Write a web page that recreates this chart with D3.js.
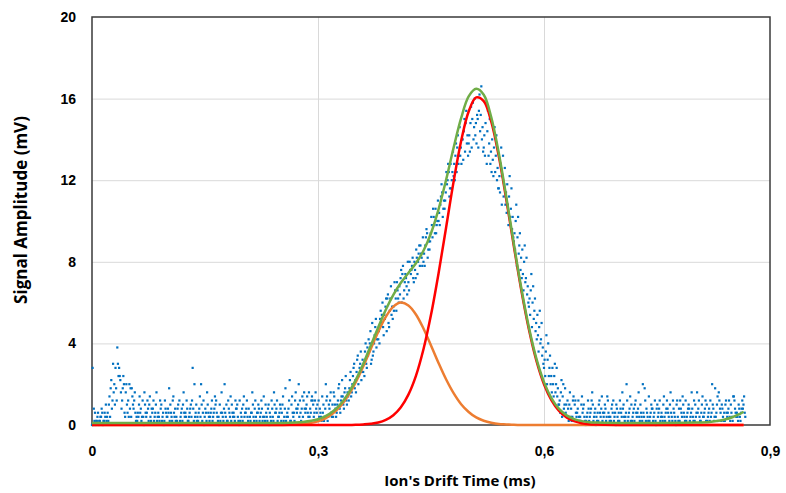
<!DOCTYPE html>
<html>
<head>
<meta charset="utf-8">
<script src="https://cdn.jsdelivr.net/npm/d3@7.9.0/dist/d3.min.js"></script>
<style>
  html, body { margin: 0; padding: 0; background: #fff; }
  svg { display: block; font-family: "Open Sans", "Noto Sans", sans-serif; }
  .tick text { font-weight: 700; fill: #000; }
  .axis-title { font-weight: 700; fill: #000; }
</style>
</head>
<body>
<div id="chart"></div>
<script>
// ADC samples, one row per sample time (step 0.004 ms), five overlaid traces,
// values in ADC levels of 0.2 mV
const sampleStep = 0.004;
const traceOffsets = [0, 0.0024, 0.0008, 0.0032, 0.0016]; // ms, sampling phase
const mvPerLevel = 0.2;
const adcLevels = [
  [0,4,14,1,0],[1,0,2,1,3],[0,2,1,3,1],[1,3,2,0,4],[2,1,5,3,1],
  [2,5,3,7,1],[4,9,6,11,2],[8,14,10,15,5],[12,19,9,15,6],[11,14,8,12,4],
  [6,10,9,3,12],[5,8,3,10,2],[2,9,10,6,4],[4,7,2,5,9],[3,6,1,8,2],
  [1,5,3,7,2],[2,4,6,1,3],[0,3,8,2,5],[1,6,2,4,3],[2,5,1,7,4],
  [3,1,4,2,6],[1,5,2,8,3],[2,4,1,3,6],[0,2,5,3,1],[4,1,3,6,2],
  [2,9,4,1,3],[1,3,6,2,5],[3,1,2,7,4],[0,4,2,5,1],[2,6,3,1,4],
  [1,3,5,2,8],[4,2,1,6,3],[2,5,3,1,4],[1,14,2,4,6],[3,10,5,2,1],
  [2,4,1,7,3],[1,10,3,5,2],[0,3,2,6,4],[2,5,1,3,8],[3,1,4,2,6],
  [1,4,2,7,3],[2,6,1,3,5],[0,3,5,2,1],[4,2,8,1,3],[2,10,5,3,1],
  [1,3,6,2,4],[3,1,2,5,7],[2,4,1,3,6],[0,2,4,1,5],[3,6,2,1,4],
  [1,2,5,3,7],[2,4,1,6,3],[0,3,2,4,1],[1,5,3,2,8],[2,4,1,6,3],
  [3,1,5,2,4],[1,6,2,4,3],[2,3,1,7,5],[0,4,2,5,1],[1,3,6,2,4],
  [2,5,1,3,8],[1,4,2,6,3],[3,1,5,2,4],[2,7,3,1,5],[1,4,2,9,3],
  [2,11,4,1,6],[3,5,2,7,1],[1,4,6,3,8],[2,5,3,10,4],[1,6,4,3,7],
  [2,4,6,3,8],[3,5,2,7,4],[2,6,4,8,3],[3,5,7,2,6],[4,6,3,8,5],
  [1,4,6,3,2],[3,1,5,7,2],[2,6,4,1,10],[4,2,7,5,1],[3,6,2,8,5],
  [2,5,8,4,7],[6,3,9,5,2],[4,7,3,10,6],[8,5,11,4,7],[6,9,5,12,8],
  [7,11,6,13,9],[12,8,14,10,7],[9,13,11,15,8],[14,10,16,12,17],[11,15,13,18,16],
  [13,18,15,20,12],[17,14,21,19,15],[20,16,23,18,15],[22,18,25,20,17],[19,24,21,26,23],
  [21,26,23,28,20],[24,27,22,30,25],[26,23,29,27,31],[28,25,31,24,32],[27,31,29,34,26],
  [29,33,28,31,35],[31,35,30,33,28],[32,30,36,34,38],[35,31,37,33,39],[34,37,32,36,40],
  [35,38,33,37,40],[36,39,35,41,38],[38,41,36,40,43],[39,42,37,44,40],[41,44,39,42,46],
  [40,44,42,46,39],[43,47,45,41,48],[45,49,47,43,51],[47,51,46,49,53],[49,53,50,47,55],
  [50,54,52,56,49],[53,57,55,51,59],[55,59,57,53,62],[58,62,60,56,64],[60,64,62,58,67],
  [61,66,64,69,60],[64,68,66,71,62],[66,70,68,73,64],[67,72,70,75,65],[69,74,71,77,66],
  [69,74,71,78,67],[70,75,73,79,68],[71,76,74,80,69],[72,77,75,81,68],[70,76,73,83,67],
  [68,74,71,79,66],[66,72,69,77,64],[64,70,67,75,62],[62,68,65,73,61],[60,66,63,71,58],
  [58,64,61,68,57],[56,61,59,66,54],[54,59,57,63,52],[51,56,54,61,49],[48,53,51,58,46],
  [45,50,47,54,43],[42,46,44,51,39],[38,43,41,47,36],[35,40,37,44,33],[32,36,34,41,30],
  [29,33,31,37,27],[26,30,28,34,24],[23,27,25,31,21],[20,24,22,28,18],[17,21,19,25,15],
  [14,18,16,22,12],[12,16,14,20,10],[10,14,12,17,8],[8,12,10,15,7],[7,10,9,14,5],
  [5,8,6,11,3],[4,7,5,10,2],[3,6,5,9,2],[2,5,4,8,1],[2,4,6,1,7],
  [1,3,5,2,6],[2,4,1,6,3],[1,3,5,2,7],[0,2,4,1,5],[3,1,6,2,4],
  [1,4,2,6,3],[2,5,3,1,8],[0,3,2,4,1],[2,6,1,3,5],[1,4,3,7,2],
  [3,1,5,2,4],[2,6,1,3,7],[1,3,4,2,5],[0,2,6,3,1],[2,5,1,4,3],
  [1,3,6,2,4],[2,4,1,5,8],[3,1,10,2,6],[1,4,2,7,3],[2,5,3,1,4],
  [1,3,5,2,6],[2,4,1,8,3],[3,10,2,5,1],[1,9,3,6,2],[2,4,1,3,7],
  [1,5,2,4,3],[3,1,6,2,4],[0,2,4,1,5],[2,6,3,1,4],[1,3,5,2,7],
  [2,4,1,6,3],[1,3,5,2,4],[3,6,2,8,1],[0,2,4,1,3],[2,5,1,6,4],
  [1,3,6,2,4],[2,5,1,3,7],[1,4,2,6,3],[3,1,5,2,4],[2,8,1,4,6],
  [1,3,5,8,2],[2,4,1,6,3],[3,2,5,1,7],[1,4,2,6,3],[2,5,3,1,4],
  [1,3,6,10,2],[2,4,9,1,5],[3,1,5,2,7],[1,4,8,3,6],[2,5,1,4,3],
  [1,3,5,2,6],[2,4,1,6,3],[3,7,2,5,1],[2,4,7,3,6],[1,3,5,2,4],
  [2,4,1,6,3],[3,5,2,7,4]
];

// fitted peaks (mV)
const fitTimes = [0, 0.1, 0.2, 0.25, 0.28, 0.30, 0.31, 0.32, 0.33, 0.34, 0.35, 0.36, 0.37, 0.38, 0.39,
  0.40, 0.41, 0.42, 0.43, 0.44, 0.45, 0.46, 0.47, 0.48, 0.49, 0.50, 0.51, 0.52, 0.53, 0.54,
  0.55, 0.56, 0.57, 0.58, 0.59, 0.60, 0.61, 0.62, 0.63, 0.64, 0.65, 0.66, 0.67, 0.68, 0.70,
  0.75, 0.80, 0.82, 0.83, 0.84, 0.85, 0.86, 0.865];
const fitPeak1 = [0, 0, 0, 0, 0.05, 0.18, 0.33, 0.57, 0.93, 1.44, 2.09, 2.87, 3.73, 4.57, 5.30,
  5.80, 6.00, 5.86, 5.42, 4.73, 3.90, 3.04, 2.24, 1.56, 1.02, 0.64, 0.37, 0.21, 0.11, 0.05,
  0.03, 0.01, 0, 0, 0, 0, 0, 0, 0, 0, 0, 0, 0, 0, 0,
  0, 0, 0, 0, 0, 0, 0, 0];
const fitPeak2 = [0, 0, 0, 0, 0, 0, 0, 0, 0, 0, 0.01, 0.03, 0.06, 0.12, 0.25,
  0.48, 0.87, 1.49, 2.41, 3.71, 5.40, 7.43, 9.67, 11.93, 13.92, 15.37, 16.06, 15.88, 14.87, 13.17,
  11.04, 8.76, 6.58, 4.68, 3.14, 2.00, 1.21, 0.69, 0.37, 0.19, 0.09, 0.04, 0.02, 0.01, 0,
  0, 0, 0, 0, 0, 0, 0, 0];
const fitSum = [0.1, 0.1, 0.1, 0.1, 0.15, 0.28, 0.43, 0.67, 1.03, 1.54, 2.20, 2.99, 3.89, 4.79, 5.65,
  6.38, 6.97, 7.45, 7.93, 8.54, 9.40, 10.57, 12.01, 13.59, 15.04, 16.11, 16.48, 16.19, 15.08, 13.32,
  11.17, 8.87, 6.68, 4.78, 3.24, 2.10, 1.31, 0.79, 0.47, 0.29, 0.19, 0.14, 0.12, 0.11, 0.1,
  0.1, 0.12, 0.15, 0.2, 0.27, 0.38, 0.55, 0.65];

const xTicks = [0, 0.3, 0.6, 0.9];
const yTicks = [0, 4, 8, 12, 16, 20];

const width = 786, height = 493;
const plot = { left: 92, right: 770, top: 17, bottom: 425 };

const svg = d3.select('#chart').append('svg')
  .attr('width', width).attr('height', height);

const x = d3.scaleLinear().domain([0, 0.9]).range([plot.left, plot.right]);
const y = d3.scaleLinear().domain([0, 20]).range([plot.bottom, plot.top]);

const comma = d3.formatLocale({ decimal: ',', thousands: '.', grouping: [3], currency: ['', ''] });

// gridlines
svg.append('g')
  .attr('transform', `translate(${plot.left},0)`)
  .call(d3.axisLeft(y).tickValues(yTicks.slice(1, -1)).tickFormat('').tickSize(-(plot.right - plot.left)))
  .call(g => g.select('.domain').remove())
  .call(g => g.selectAll('line').attr('stroke', '#d9d9d9'));
svg.append('g')
  .attr('transform', `translate(0,${plot.bottom})`)
  .call(d3.axisBottom(x).tickValues(xTicks.slice(1, -1)).tickFormat('').tickSize(-(plot.bottom - plot.top)))
  .call(g => g.select('.domain').remove())
  .call(g => g.selectAll('line').attr('stroke', '#d9d9d9'));

// frame
svg.append('rect')
  .attr('x', plot.left).attr('y', plot.top)
  .attr('width', plot.right - plot.left).attr('height', plot.bottom - plot.top)
  .attr('fill', 'none').attr('stroke', '#3a3a3a').attr('stroke-width', 1.5);

// tick labels
svg.append('g')
  .attr('transform', `translate(0,${plot.bottom})`)
  .call(d3.axisBottom(x).tickValues(xTicks).tickFormat(comma.format('.1~f')).tickSize(0).tickPadding(21))
  .call(g => g.select('.domain').remove())
  .call(g => g.selectAll('text').attr('font-size', 14));
svg.append('g')
  .attr('transform', `translate(${plot.left},0)`)
  .call(d3.axisLeft(y).tickValues(yTicks).tickSize(0).tickPadding(16))
  .call(g => g.select('.domain').remove())
  .call(g => g.selectAll('text').attr('font-size', 14));

// samples: the sampling phase of each trace rotates from one row to the next
const samples = adcLevels.flatMap((col, i) =>
  col.map((level, k) => ({
    t: i * sampleStep + traceOffsets[(k + i) % traceOffsets.length],
    mv: level * mvPerLevel
  })));

svg.append('g')
  .selectAll('rect')
  .data(samples)
  .join('rect')
    .attr('x', d => x(d.t) - 1.1)
    .attr('y', d => y(d.mv) - 1.1)
    .attr('width', 2.2)
    .attr('height', 2.2)
    .attr('fill', '#0070c0');

// fitted curves
const series = [
  { values: fitPeak1, color: '#ed7d31' },
  { values: fitPeak2, color: '#ff0000' },
  { values: fitSum,   color: '#70ad47' }
];
const line = d3.line()
  .x((d, i) => x(fitTimes[i]))
  .y(d => y(d))
  .curve(d3.curveCatmullRom.alpha(0.5));

svg.append('g')
  .selectAll('path')
  .data(series)
  .join('path')
    .attr('d', s => line(s.values))
    .attr('fill', 'none')
    .attr('stroke', s => s.color)
    .attr('stroke-width', 2.5)
    .attr('stroke-linejoin', 'round');

// axis titles
svg.append('text')
  .attr('class', 'axis-title')
  .attr('x', 460).attr('y', 486)
  .attr('text-anchor', 'middle')
  .attr('font-size', 15)
  .text("Ion's Drift Time (ms)");

svg.append('text')
  .attr('class', 'axis-title')
  .attr('transform', 'translate(27,210) rotate(-90)')
  .attr('text-anchor', 'middle')
  .attr('font-size', 17)
  .text('Signal Amplitude (mV)');
</script>
</body>
</html>
